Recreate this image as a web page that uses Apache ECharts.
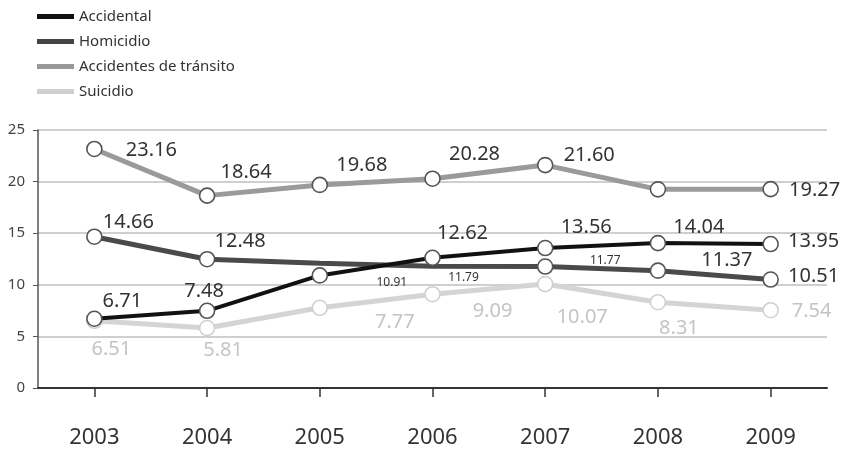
<!DOCTYPE html>
<html>
<head>
<meta charset="utf-8">
<script src="https://cdn.jsdelivr.net/npm/echarts@6/dist/echarts.min.js"></script>
<style>
  html, body { margin: 0; padding: 0; background: #fff; }
  #chart { width: 848px; height: 450px; }
</style>
</head>
<body>
<div id="chart"></div>
<script>
// Tasas por año (2003-2009)
const years = ['2003', '2004', '2005', '2006', '2007', '2008', '2009'];
const yTicks = [0, 5, 10, 15, 20, 25];

const accidental = [6.71, 7.48, 10.91, 12.62, 13.56, 14.04, 13.95];
const homicidio  = [14.66, 12.48, 12.1, 11.79, 11.77, 11.37, 10.51];
const transito   = [23.16, 18.64, 19.68, 20.28, 21.60, 19.25, 19.27];
const suicidio   = [6.51, 5.81, 7.77, 9.09, 10.07, 8.31, 7.54];

// Label placement (offset of label centre from the point), null = no label
const accidentalLabelOff = [[28, -17], [-3, -20], [72, 7], [30, -24], [41, -21], [41, -16], [43, -3]];
const homicidioLabelOff  = [[34, -14], [33, -18], null, [31, 11], [60, -6], [69, -10], [43, -3]];
const transitoLabelOff   = [[57, 1], [39, -23], [42, -20], [42, -24], [44, -10], null, [44, 1]];
const suicidioLabelOff   = [[17, 28], [16, 22], [75, 14], [60, 17], [37, 33], [21, 26], [41, 1]];

// Points drawn without a marker
const homicidioNoMarker = [2, 3];
// Labels set in the smaller type
const accidentalSmall = [2];
const homicidioSmall = [3, 4];

const FONT = '"Noto Sans", "Open Sans", sans-serif';

function buildData(values, offsets, labelColor, smallIdx, noMarkerIdx) {
  return values.map((v, i) => {
    const off = offsets[i];
    const small = (smallIdx || []).includes(i);
    const item = {
      value: v,
      label: off ? {
        show: true,
        position: 'inside',
        offset: off,
        color: labelColor,
        fontSize: small ? 12 : 20,
        fontFamily: FONT,
        formatter: (p) => Number(p.value).toFixed(2)
      } : { show: false }
    };
    if ((noMarkerIdx || []).includes(i)) item.symbolSize = 0;
    return item;
  });
}

function makeSeries(name, values, offsets, lineColor, lineWidth, borderColor, labelColor, z, smallIdx, noMarkerIdx) {
  return {
    name: name,
    type: 'line',
    z: z,
    data: buildData(values, offsets, labelColor, smallIdx, noMarkerIdx),
    symbol: 'circle',
    symbolSize: 15,
    showAllSymbol: true,
    lineStyle: { color: lineColor, width: lineWidth },
    itemStyle: { color: '#ffffff', borderColor: borderColor, borderWidth: 1.6 },
    emphasis: { disabled: true },
    animation: false
  };
}

const chart = echarts.init(document.getElementById('chart'), null, { renderer: 'canvas' });

chart.setOption({
  backgroundColor: '#ffffff',
  animation: false,
  legend: {
    orient: 'vertical',
    left: 37,
    top: 9,
    padding: 0,
    icon: 'rect',
    itemWidth: 37,
    itemHeight: 5,
    itemGap: 10,
    textStyle: { fontFamily: FONT, fontSize: 15, color: '#333', lineHeight: 15 },
    data: [
      { name: 'Accidental', itemStyle: { color: '#111', borderWidth: 0 } },
      { name: 'Homicidio', itemStyle: { color: '#444', borderWidth: 0 } },
      { name: 'Accidentes de tránsito', itemStyle: { color: '#999', borderWidth: 0 } },
      { name: 'Suicidio', itemStyle: { color: '#cfcfcf', borderWidth: 0 } }
    ]
  },
  grid: { left: 38, right: 21, top: 130, bottom: 62, containLabel: false },
  xAxis: {
    type: 'category',
    data: years,
    boundaryGap: true,
    offset: 5,
    axisLine: { show: true, lineStyle: { color: '#333', width: 2 } },
    axisTick: { show: true, alignWithLabel: true, length: 9, lineStyle: { color: '#333', width: 1.5 } },
    axisLabel: { color: '#333', fontSize: 22, fontFamily: FONT, margin: 34 },
    splitLine: { show: false }
  },
  yAxis: {
    type: 'value',
    min: yTicks[0],
    max: yTicks[yTicks.length - 1],
    interval: 5,
    axisLine: { show: true, lineStyle: { color: '#555', width: 1.5 } },
    axisTick: { show: true, length: 5, lineStyle: { color: '#555' } },
    axisLabel: { color: '#444', fontSize: 15, fontFamily: FONT, margin: 13 },
    splitLine: {
      show: true,
      lineStyle: {
        color: ['rgba(0,0,0,0)', '#cfcfcf', '#cfcfcf', '#cfcfcf', '#cfcfcf', '#cfcfcf'],
        width: 2
      }
    }
  },
  series: [
    makeSeries('Suicidio', suicidio, suicidioLabelOff, '#d4d4d4', 5, '#d0d0d0', '#c4c4c4', 2),
    makeSeries('Accidentes de tránsito', transito, transitoLabelOff, '#9a9a9a', 5, '#555', '#333', 3),
    makeSeries('Homicidio', homicidio, homicidioLabelOff, '#4a4a4a', 5, '#555', '#333', 4, homicidioSmall, homicidioNoMarker),
    makeSeries('Accidental', accidental, accidentalLabelOff, '#111', 4, '#555', '#333', 5, accidentalSmall)
  ]
});
</script>
</body>
</html>
